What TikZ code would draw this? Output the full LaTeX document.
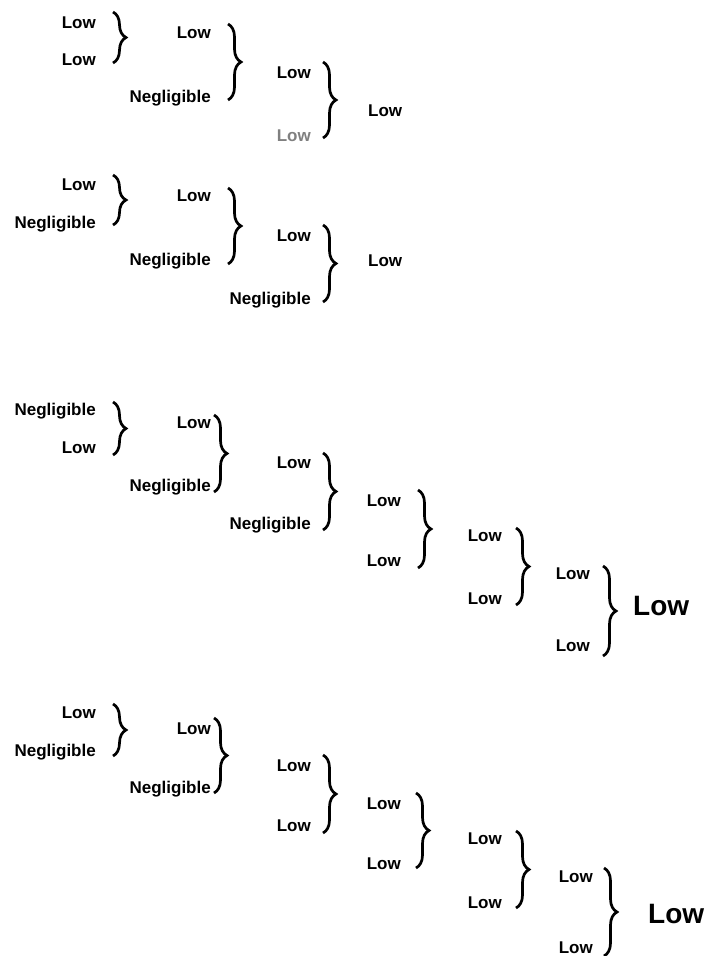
\documentclass[tikz,border=0pt]{standalone}
\usepackage{fontspec}
\setmainfont{Liberation Sans}
\usetikzlibrary{decorations.pathreplacing}
\begin{document}
\begin{tikzpicture}[x=1pt,y=1pt,
  lbl/.style={inner sep=0pt, font=\fontsize{17}{19}\selectfont\bfseries, anchor=base east},
  res/.style={inner sep=0pt, font=\fontsize{17}{19}\selectfont\bfseries, anchor=base west},
  bigres/.style={inner sep=0pt, font=\fontsize{28}{30}\selectfont\bfseries, anchor=base west},
  brc/.style={decorate, decoration={brace, amplitude=13pt, aspect=0.5}, line width=2.7pt}]
\useasboundingbox (0,0) rectangle (717,-956);
% ---------- Block 1 ----------
\node[lbl] (a1) at (96,-28) {Low};
\node[lbl] (a2) at (96,-65) {Low};
\coordinate (A1t) at (113,-12); \coordinate (A1b) at (113,-63);
\draw[brc] (A1t) -- (A1b);
\node[lbl] (a3) at (211,-38) {Low};
\node[lbl] (a4) at (211,-102) {Negligible};
\coordinate (A2t) at (228,-24); \coordinate (A2b) at (228,-100);
\draw[brc] (A2t) -- (A2b);
\node[lbl] (a5) at (311,-78) {Low};
\node[lbl, text=gray] (a6) at (311,-141) {Low};
\coordinate (A3t) at (323,-62); \coordinate (A3b) at (323,-138);
\draw[brc] (A3t) -- (A3b);
\node[res] (a7) at (368,-116) {Low};
% ---------- Block 2 ----------
\node[lbl] (b1) at (96,-190) {Low};
\node[lbl] (b2) at (96,-228) {Negligible};
\coordinate (B1t) at (113,-175); \coordinate (B1b) at (113,-225);
\draw[brc] (B1t) -- (B1b);
\node[lbl] (b3) at (211,-201) {Low};
\node[lbl] (b4) at (211,-265) {Negligible};
\coordinate (B2t) at (228,-188); \coordinate (B2b) at (228,-264);
\draw[brc] (B2t) -- (B2b);
\node[lbl] (b5) at (311,-241) {Low};
\node[lbl] (b6) at (311,-304) {Negligible};
\coordinate (B3t) at (323,-225); \coordinate (B3b) at (323,-302);
\draw[brc] (B3t) -- (B3b);
\node[res] (b7) at (368,-266) {Low};
% ---------- Block 3 ----------
\node[lbl] (c1) at (96,-415) {Negligible};
\node[lbl] (c2) at (96,-453) {Low};
\coordinate (C1t) at (113,-402); \coordinate (C1b) at (113,-455);
\draw[brc] (C1t) -- (C1b);
\node[lbl] (c3) at (211,-428) {Low};
\node[lbl] (c4) at (211,-491) {Negligible};
\coordinate (C2t) at (214,-415); \coordinate (C2b) at (214,-492);
\draw[brc] (C2t) -- (C2b);
\node[lbl] (c5) at (311,-468) {Low};
\node[lbl] (c6) at (311,-529) {Negligible};
\coordinate (C3t) at (323,-453); \coordinate (C3b) at (323,-530);
\draw[brc] (C3t) -- (C3b);
\node[lbl] (c7) at (401,-506) {Low};
\node[lbl] (c8) at (401,-566) {Low};
\coordinate (C4t) at (418,-490); \coordinate (C4b) at (418,-568);
\draw[brc] (C4t) -- (C4b);
\node[lbl] (c9) at (502,-541) {Low};
\node[lbl] (c10) at (502,-604) {Low};
\coordinate (C5t) at (516,-528); \coordinate (C5b) at (516,-605);
\draw[brc] (C5t) -- (C5b);
\node[lbl] (c11) at (590,-579) {Low};
\node[lbl] (c12) at (590,-651) {Low};
\coordinate (C6t) at (603,-566); \coordinate (C6b) at (603,-656);
\draw[brc] (C6t) -- (C6b);
\node[bigres] (c13) at (633,-615) {Low};
% ---------- Block 4 ----------
\node[lbl] (d1) at (96,-718) {Low};
\node[lbl] (d2) at (96,-756) {Negligible};
\coordinate (D1t) at (113,-704); \coordinate (D1b) at (113,-756);
\draw[brc] (D1t) -- (D1b);
\node[lbl] (d3) at (211,-734) {Low};
\node[lbl] (d4) at (211,-793) {Negligible};
\coordinate (D2t) at (214,-718); \coordinate (D2b) at (214,-793);
\draw[brc] (D2t) -- (D2b);
\node[lbl] (d5) at (311,-771) {Low};
\node[lbl] (d6) at (311,-831) {Low};
\coordinate (D3t) at (323,-755); \coordinate (D3b) at (323,-833);
\draw[brc] (D3t) -- (D3b);
\node[lbl] (d7) at (401,-809) {Low};
\node[lbl] (d8) at (401,-869) {Low};
\coordinate (D4t) at (416,-793); \coordinate (D4b) at (416,-868);
\draw[brc] (D4t) -- (D4b);
\node[lbl] (d9) at (502,-844) {Low};
\node[lbl] (d10) at (502,-908) {Low};
\coordinate (D5t) at (516,-831); \coordinate (D5b) at (516,-908);
\draw[brc] (D5t) -- (D5b);
\node[lbl] (d11) at (593,-882) {Low};
\node[lbl] (d12) at (593,-953) {Low};
\coordinate (D6t) at (604,-868); \coordinate (D6b) at (604,-956);
\draw[brc] (D6t) -- (D6b);
\node[bigres] (d13) at (648,-923) {Low};
\end{tikzpicture}
\end{document}
